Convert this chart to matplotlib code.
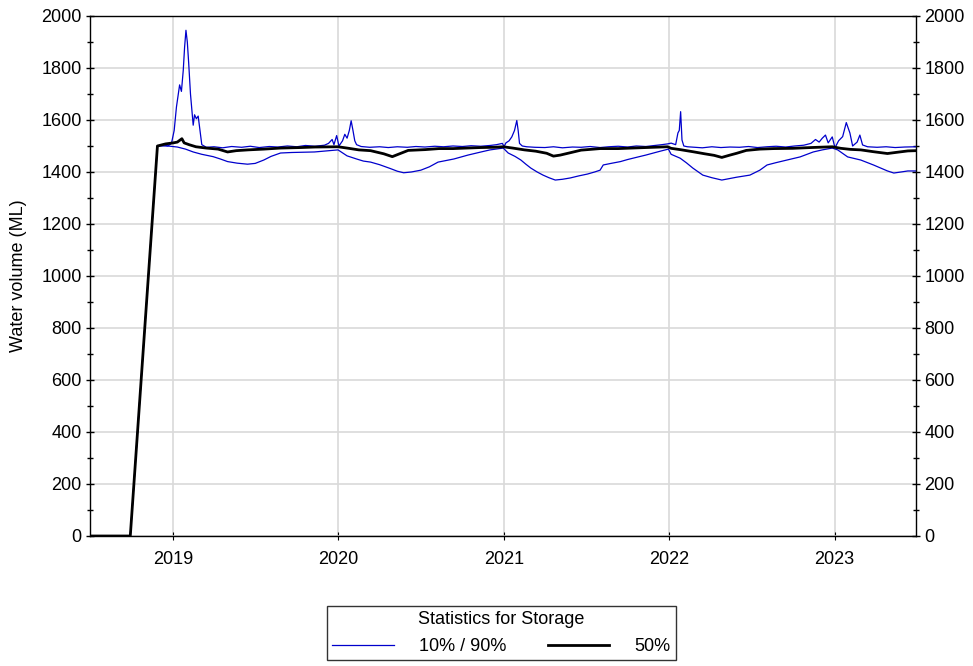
import matplotlib
matplotlib.use("Agg")
import matplotlib.pyplot as plt
import matplotlib.dates as mdates
from matplotlib.ticker import MultipleLocator
import pandas as pd

plt.rcParams['font.family'] = ['Liberation Sans', 'DejaVu Sans']
plt.rcParams['font.size'] = 13

# 90th percentile (upper blue)
p90_dates = ["2018-07-01", "2018-09-28", "2018-11-27", "2018-12-10", "2018-12-20", "2018-12-28",
             "2019-01-03", "2019-01-08", "2019-01-12", "2019-01-15", "2019-01-19", "2019-01-23",
             "2019-01-26", "2019-01-29", "2019-02-01", "2019-02-04", "2019-02-08", "2019-02-11",
             "2019-02-14", "2019-02-17", "2019-02-21", "2019-02-25", "2019-03-01", "2019-03-05",
             "2019-03-15", "2019-04-01", "2019-04-20", "2019-05-10", "2019-06-01", "2019-06-20",
             "2019-07-10", "2019-08-01", "2019-08-20", "2019-09-10", "2019-10-01", "2019-10-20",
             "2019-11-10", "2019-12-01", "2019-12-10", "2019-12-18", "2019-12-22", "2019-12-28",
             "2020-01-02", "2020-01-10", "2020-01-15", "2020-01-20", "2020-01-25", "2020-01-29",
             "2020-02-02", "2020-02-06", "2020-02-10", "2020-02-20", "2020-03-10", "2020-04-01",
             "2020-04-20", "2020-05-10", "2020-06-01", "2020-06-20", "2020-07-10", "2020-08-01",
             "2020-08-20", "2020-09-10", "2020-10-01", "2020-10-20", "2020-11-10", "2020-12-01",
             "2020-12-15", "2020-12-28", "2021-01-01", "2021-01-05", "2021-01-12", "2021-01-18",
             "2021-01-24", "2021-01-29", "2021-02-01", "2021-02-04", "2021-02-10", "2021-02-20",
             "2021-03-10", "2021-04-01", "2021-04-20", "2021-05-10", "2021-06-01", "2021-06-20",
             "2021-07-10", "2021-08-01", "2021-08-20", "2021-09-10", "2021-10-01", "2021-10-20",
             "2021-11-10", "2021-12-01", "2021-12-15", "2021-12-28", "2022-01-05", "2022-01-15",
             "2022-01-20", "2022-01-23", "2022-01-26", "2022-01-29", "2022-02-02", "2022-02-10",
             "2022-02-25", "2022-03-15", "2022-04-05", "2022-04-25", "2022-05-15", "2022-06-05",
             "2022-06-25", "2022-07-15", "2022-08-05", "2022-08-25", "2022-09-15", "2022-10-05",
             "2022-10-25", "2022-11-10", "2022-11-20", "2022-11-28", "2022-12-05", "2022-12-12",
             "2022-12-18", "2022-12-27", "2023-01-02", "2023-01-10", "2023-01-19", "2023-01-27",
             "2023-02-04", "2023-02-10", "2023-02-20", "2023-02-26", "2023-03-04", "2023-03-15",
             "2023-04-05", "2023-04-25", "2023-05-15", "2023-06-05", "2023-06-30"]
p90 = [0, 0, 1500, 1505, 1500, 1510,
       1560, 1650, 1700, 1735, 1710, 1790,
       1880, 1945, 1900, 1820, 1700, 1640,
       1580, 1620, 1605, 1615, 1560, 1505,
       1495, 1497, 1493, 1498, 1495, 1499,
       1494, 1498, 1496, 1500, 1497, 1502,
       1499, 1503, 1510, 1525, 1505, 1540,
       1500, 1520, 1545, 1530, 1560, 1597,
       1560, 1520, 1505, 1498, 1495, 1497,
       1494, 1497, 1495, 1498, 1496, 1499,
       1497, 1500, 1498, 1501, 1499, 1502,
       1505, 1510, 1498, 1512, 1520, 1535,
       1560, 1598, 1560, 1510, 1500, 1497,
       1495, 1494, 1497, 1493, 1496, 1495,
       1498, 1494, 1497, 1499, 1496, 1500,
       1498, 1502, 1505, 1508, 1511, 1505,
       1550, 1560, 1632, 1523, 1500, 1497,
       1495, 1493, 1497, 1494, 1496, 1495,
       1498, 1494, 1497, 1499, 1496, 1500,
       1503, 1510, 1525, 1515, 1530, 1542,
       1512, 1535, 1493, 1520, 1536, 1590,
       1550, 1500, 1515, 1542, 1504, 1497,
       1495, 1497, 1494, 1496, 1497]

# median (black)
p50_dates = ["2018-07-01", "2018-09-28", "2018-11-27", "2018-12-15", "2019-01-01", "2019-01-10",
             "2019-01-20", "2019-01-25", "2019-02-05", "2019-02-20", "2019-03-15", "2019-04-10",
             "2019-05-01", "2019-05-20", "2019-06-15", "2019-07-20", "2019-08-26", "2019-10-10",
             "2019-11-10", "2019-12-31", "2020-01-20", "2020-02-15", "2020-03-12", "2020-04-10",
             "2020-04-29", "2020-05-15", "2020-06-03", "2020-07-10", "2020-08-10", "2020-09-10",
             "2020-10-10", "2020-11-10", "2020-12-10", "2020-12-30", "2021-01-20", "2021-02-15",
             "2021-03-12", "2021-04-05", "2021-04-20", "2021-05-05", "2021-05-27", "2021-06-20",
             "2021-08-01", "2021-09-10", "2021-10-10", "2021-11-10", "2021-12-28", "2022-01-05",
             "2022-01-25", "2022-02-22", "2022-03-20", "2022-04-10", "2022-04-27", "2022-05-15",
             "2022-05-30", "2022-06-20", "2022-07-20", "2022-08-20", "2022-10-01", "2022-11-10",
             "2022-12-27", "2023-01-15", "2023-02-05", "2023-02-28", "2023-03-28", "2023-04-28",
             "2023-05-20", "2023-06-12", "2023-06-30"]
p50 = [0, 0, 1500, 1508, 1512, 1515,
       1528, 1512, 1505, 1497, 1492, 1488,
       1477, 1482, 1485, 1488, 1492, 1494,
       1496, 1497, 1492, 1485, 1482, 1470,
       1459, 1470, 1483, 1486, 1490, 1490,
       1492, 1494, 1495, 1497, 1492, 1485,
       1480, 1472, 1461, 1465, 1474, 1484,
       1490, 1490, 1492, 1494, 1497, 1491,
       1486, 1478, 1470, 1464, 1456, 1465,
       1472, 1483, 1488, 1490, 1491, 1494,
       1497, 1491, 1487, 1485, 1478, 1471,
       1476, 1481, 1482]

# 10th percentile (lower blue)
p10_dates = ["2018-07-01", "2018-09-28", "2018-11-27", "2018-12-20", "2019-01-10", "2019-01-28",
             "2019-02-14", "2019-03-05", "2019-03-30", "2019-04-15", "2019-05-01", "2019-05-22",
             "2019-06-14", "2019-07-01", "2019-07-20", "2019-08-05", "2019-08-26", "2019-09-20",
             "2019-10-15", "2019-11-09", "2019-12-05", "2019-12-31", "2020-01-20", "2020-02-10",
             "2020-02-25", "2020-03-12", "2020-04-01", "2020-04-25", "2020-05-10", "2020-05-24",
             "2020-06-10", "2020-07-01", "2020-07-20", "2020-08-08", "2020-09-12", "2020-10-13",
             "2020-11-11", "2020-12-01", "2020-12-30", "2021-01-10", "2021-01-25", "2021-02-07",
             "2021-02-18", "2021-03-01", "2021-03-15", "2021-03-28", "2021-04-10", "2021-04-24",
             "2021-05-10", "2021-05-27", "2021-06-15", "2021-07-04", "2021-07-20", "2021-08-01",
             "2021-08-08", "2021-08-25", "2021-09-15", "2021-10-01", "2021-10-22", "2021-11-10",
             "2021-11-27", "2021-12-12", "2021-12-30", "2022-01-05", "2022-01-25", "2022-02-08",
             "2022-02-22", "2022-03-16", "2022-04-05", "2022-04-27", "2022-05-15", "2022-05-30",
             "2022-06-28", "2022-07-20", "2022-08-05", "2022-08-25", "2022-09-18", "2022-10-17",
             "2022-11-15", "2022-12-05", "2022-12-27", "2023-01-08", "2023-01-30", "2023-02-28",
             "2023-03-28", "2023-04-28", "2023-05-12", "2023-05-28", "2023-06-12", "2023-06-30"]
p10 = [0, 0, 1500, 1500, 1496, 1488,
       1477, 1468, 1459, 1450, 1440, 1434,
       1430, 1433, 1446, 1460, 1473, 1475,
       1476, 1477, 1481, 1485, 1462, 1450,
       1442, 1438, 1428, 1413, 1403, 1397,
       1400, 1407, 1420, 1438, 1450, 1465,
       1477, 1485, 1492, 1473, 1460, 1446,
       1430, 1415, 1400, 1388, 1378, 1369,
       1372, 1377, 1385, 1392, 1400, 1407,
       1427, 1433, 1440, 1448, 1457, 1465,
       1473, 1480, 1488, 1468, 1453, 1435,
       1415, 1388, 1378, 1369, 1375, 1380,
       1388, 1407, 1427, 1436, 1446, 1458,
       1477, 1485, 1492, 1485, 1458, 1446,
       1427, 1404, 1396, 1400, 1404, 1404]

blue = '#0000cc'

fig = plt.figure(figsize=(9.73, 6.66), dpi=100)
ax = fig.add_axes([0.0925, 0.1952, 0.8489, 0.7808])

ax.plot(pd.to_datetime(p90_dates), p90, color=blue, lw=0.9, label='10% / 90%')
ax.plot(pd.to_datetime(p10_dates), p10, color=blue, lw=0.9)
ax.plot(pd.to_datetime(p50_dates), p50, color='black', lw=2.0, label='50%')

ax.set_xlim(pd.Timestamp("2018-07-01"), pd.Timestamp("2023-06-30"))
ax.set_ylim(0, 2000)
ax.yaxis.set_major_locator(MultipleLocator(200))
ax.yaxis.set_minor_locator(MultipleLocator(100))
ax.xaxis.set_major_locator(mdates.YearLocator())
ax.xaxis.set_major_formatter(mdates.DateFormatter('%Y'))

ax.grid(True, which='major', color='#d9d9d9', lw=1.2)
ax.set_axisbelow(True)
ax.tick_params(axis='y', which='both', direction='inout', left=True, right=True,
               labelleft=True, labelright=True, length=6, width=1, pad=3)
ax.tick_params(axis='y', which='minor', length=5)
ax.tick_params(axis='x', direction='inout', length=6, pad=8)
for s in ax.spines.values():
    s.set_color('black')
    s.set_linewidth(1.0)

ax.set_ylabel('Water volume (ML)')
ax.yaxis.set_label_coords(-0.076, 0.5)

leg = fig.legend(loc='center', bbox_to_anchor=(0.5155, 0.0495), ncol=2,
                 title='Statistics for Storage', title_fontsize=13, fancybox=False,
                 frameon=True, handlelength=3.4, handletextpad=1.4, columnspacing=2.3,
                 borderpad=0.3, borderaxespad=0, labelspacing=0.55)
leg.get_frame().set_edgecolor('black')
leg.get_frame().set_linewidth(1.0)

fig.savefig('out.png', dpi=100)
